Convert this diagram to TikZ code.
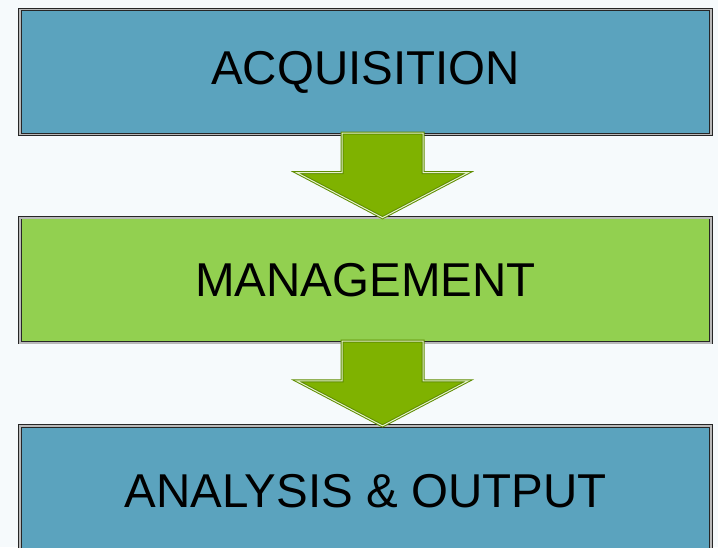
\documentclass[tikz,border=0pt]{standalone}
\usepackage{fontspec}
\setmainfont{Liberation Sans}
\usetikzlibrary{positioning,calc}
\definecolor{stageblue}{RGB}{91,163,190}
\definecolor{stagegreen}{RGB}{146,208,80}
\definecolor{flowgreen}{RGB}{127,178,0}
\definecolor{flowdark}{RGB}{94,140,0}
\definecolor{pagetint}{RGB}{246,250,252}
\tikzset{stage/.style={draw=black!85,double=gray!55,double distance=1.6pt,line width=0.8pt,
        minimum width=691pt,minimum height=125pt,outer sep=0pt,inner sep=0pt,
        font=\fontsize{47.5}{57}\selectfont},
    acqstage/.style={stage,fill=stageblue},
    manstage/.style={stage,fill=stagegreen},
    flow/.style={fill=flowgreen,draw=flowdark,double=white!80!flowgreen,
        double distance=1pt,line width=1pt,line join=miter},
    node distance=83.2pt}

\begin{document}
\begin{tikzpicture}[x=1pt,y=-1pt]
\fill[pagetint] (0,0) rectangle (718,547);
\clip (0,0) rectangle (718,547);
\node[acqstage] (acq) at (365.5,72) {ACQUISITION};
\node[manstage,below=of acq] (man) {MANAGEMENT};
\node[acqstage,below=of man,minimum height=131pt] (ana) {ANALYSIS \& OUTPUT};
% block arrows between the stages
\foreach \a/\b in {acq/man,man/ana}
    \draw[flow] let \p1=(\a.south), \p2=(\b.north) in
        (\x1-23.5pt,\y1+1.5pt) -- (\x1+57.5pt,\y1+1.5pt) -- (\x1+57.5pt,\y2+45pt)
        -- (\x1+102.5pt,\y2+45pt) -- (\x1+17pt,\y2) -- (\x1-68.5pt,\y2+45pt)
        -- (\x1-23.5pt,\y2+45pt) -- cycle;
\end{tikzpicture}
\end{document}
